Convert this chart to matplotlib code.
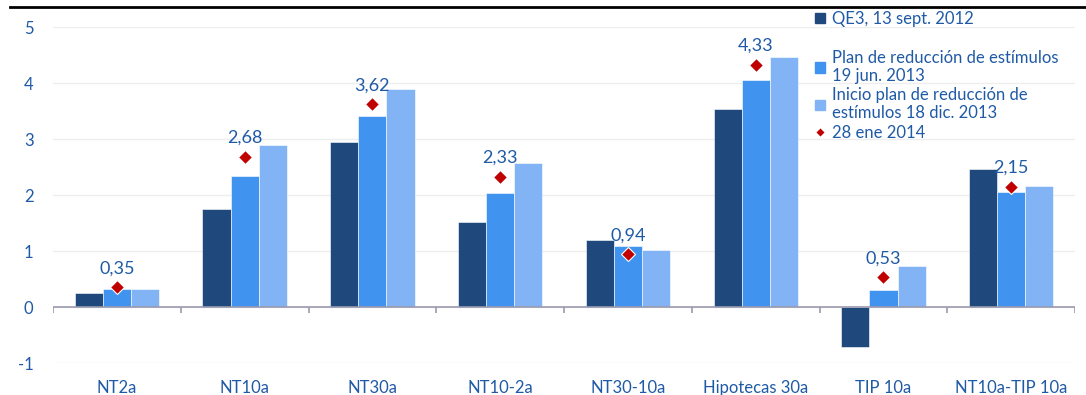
import matplotlib.pyplot as plt
import numpy as np
from matplotlib.lines import Line2D
from matplotlib.patches import Patch

plt.rcParams['font.family'] = ['Lato', 'DejaVu Sans']
plt.rcParams['axes.unicode_minus'] = False

categories = ['NT2a', 'NT10a', 'NT30a', 'NT10-2a', 'NT30-10a',
              'Hipotecas 30a', 'TIP 10a', 'NT10a-TIP 10a']
qe3_2012 = [0.245, 1.75, 2.95, 1.52, 1.20, 3.54, -0.71, 2.46]
tapering_jun13 = [0.32, 2.34, 3.41, 2.04, 1.09, 4.05, 0.30, 2.05]
tapering_dic13 = [0.32, 2.89, 3.89, 2.57, 1.01, 4.46, 0.73, 2.16]
ene_2014 = [0.35, 2.68, 3.62, 2.33, 0.94, 4.33, 0.53, 2.15]

series_labels = ['QE3, 13 sept. 2012',
                 'Plan de reducción de estímulos\n19 jun. 2013',
                 'Inicio plan de reducción de\nestímulos 18 dic. 2013',
                 '28 ene 2014']

c_dark = '#1f497d'
c_mid = '#4193f0'
c_light = '#82b4f5'
c_red = '#c00000'
c_text = '#1f5aa6'

fig = plt.figure(figsize=(10.86, 3.95), dpi=100)
ax = fig.add_axes([0.0488, 0.081, 0.9412, 0.8506])

x = np.arange(len(categories))
w = 0.22
ax.bar(x - w, qe3_2012, w, color=c_dark, edgecolor='white', linewidth=0.4, zorder=2)
ax.bar(x, tapering_jun13, w, color=c_mid, edgecolor='white', linewidth=0.4, zorder=2)
ax.bar(x + w, tapering_dic13, w, color=c_light, edgecolor='white', linewidth=0.4, zorder=2)
ax.plot(x, ene_2014, ls='none', marker='D', ms=7, mfc=c_red, mec='white',
        mew=0.8, zorder=4)

for xi, v in zip(x, ene_2014):
    ax.annotate(f'{v:.2f}'.replace('.', ','), (xi, v), xytext=(0, 8),
                textcoords='offset points', ha='center', va='bottom',
                fontsize=13, color=c_text, zorder=5)

# zero line with category separators
ax.axhline(0, color='#9a9aae', lw=1.2, zorder=3)
ax.vlines(np.arange(len(categories) + 1) - 0.5, -0.1, 0, color='#9a9aae',
          lw=1.2, zorder=3)

ax.set_xlim(-0.5, len(categories) - 0.5)
ax.set_ylim(-1, 5)
ax.set_yticks(range(-1, 6))
ax.set_xticks(x)
ax.set_xticklabels(categories)
ax.tick_params(axis='both', length=0, labelsize=12, labelcolor=c_text)
ax.tick_params(axis='x', pad=12)
ax.tick_params(axis='y', pad=14)
ax.grid(axis='y', color='#eeeeee', lw=1, zorder=0)
for s in ax.spines.values():
    s.set_visible(False)

handles = [Patch(color=c_dark), Patch(color=c_mid), Patch(color=c_light),
           Line2D([], [], ls='none', marker='D', ms=5, mfc=c_red, mec='white')]
leg_kw = dict(frameon=False, fontsize=12, labelcolor=c_text,
              handlelength=0.6, handleheight=0.6, handletextpad=0.4,
              borderpad=0, borderaxespad=0, bbox_transform=fig.transFigure)
leg1 = ax.legend(handles[:1], series_labels[:1], loc='upper left',
                 bbox_to_anchor=(0.7505, 0.972), **leg_kw)
ax.add_artist(leg1)
leg2 = ax.legend(handles[1:], series_labels[1:], loc='upper left',
                 bbox_to_anchor=(0.7505, 0.874), labelspacing=0.22, **leg_kw)
for t in leg2.get_texts():
    t.set_linespacing(1.15)

fig.add_artist(Line2D([0.009, 1], [0.9835, 0.9835], color='black', lw=2,
                      transform=fig.transFigure))

fig.savefig('out.png', dpi=100)
